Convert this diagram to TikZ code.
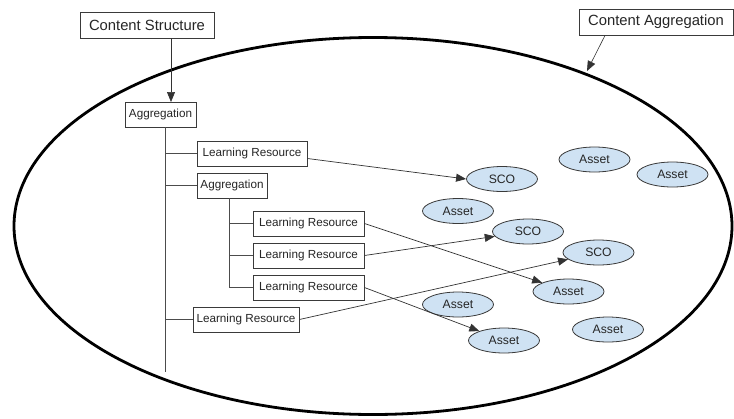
\documentclass[tikz,border=0pt]{standalone}
\usepackage{fontspec}
\setmainfont{Liberation Sans}
\usetikzlibrary{arrows.meta,shapes.geometric,calc}
\definecolor{itemblue}{HTML}{CFE2F3}
\definecolor{edge}{HTML}{3A3A3A}
\tikzset{
  box/.style={draw=edge, line width=0.9pt, fill=white, inner sep=0pt, minimum height=25pt,
              font=\fontsize{11.7}{13}\selectfont, text=black!85},
  bigbox/.style={box, minimum height=26pt, font=\fontsize{14.8}{17}\selectfont},
  item/.style={ellipse, draw=edge, line width=0.8pt, fill=itemblue, inner sep=0pt,
               minimum width=71pt, minimum height=25pt, font=\fontsize{12.2}{14}\selectfont, text=black!85},
  tree/.style={draw=black!70, line width=0.9pt},
  arr/.style={draw=black!80, line width=0.7pt, -{Triangle[length=10pt,width=8pt]}},
}
\begin{document}
\begin{tikzpicture}[x=1pt,y=-1pt]
\useasboundingbox (0,0) rectangle (734,418);
\fill[white] (0,0) rectangle (734,418);

% outer content aggregation boundary
\draw[line width=2.8pt] (373,226) ellipse [x radius=359, y radius=188.5];

% labels above
\node[bigbox, minimum width=134pt] (cs) at (147,25) {Content Structure};
\node[bigbox, minimum width=154pt] (ca) at (656,22) {Content Aggregation};

% content structure tree
\node[box, minimum width=71pt]  (agg1) at (160.5,114.5) {Aggregation};
\node[box, minimum width=110pt] (lr1)  at (252,153.5)   {Learning Resource};
\node[box, minimum width=70pt]  (agg2) at (232,185.5)   {Aggregation};
\node[box, minimum width=111pt] (lr2)  at (308.5,223.5) {Learning Resource};
\node[box, minimum width=111pt] (lr3)  at (308.5,255.5) {Learning Resource};
\node[box, minimum width=111pt] (lr4)  at (308.5,287.5) {Learning Resource};
\node[box, minimum width=106pt] (lr5)  at (246,319.5)   {Learning Resource};

% SCOs and assets
\node[item] (sco1) at (502,179) {SCO};
\node[item] (sco2) at (528,231.5) {SCO};
\node[item] (sco3) at (598.5,252.5) {SCO};
\node[item] (as1) at (594.5,159.5) {Asset};
\node[item] (as2) at (672.5,174.5) {Asset};
\node[item] (as3) at (458,211) {Asset};
\node[item] (as4) at (568.5,291.5) {Asset};
\node[item] (as5) at (458,304.5) {Asset};
\node[item] (as6) at (504,340.5) {Asset};
\node[item] (as7) at (608,329.5) {Asset};

% tree trunks and branches
\coordinate (tip)  at (171,102);
\coordinate (tr1)  at (165,127);
\coordinate (tr1e) at (165,372);
\coordinate (tr2)  at (229,198);
\draw[tree] (tr1) -- (tr1e);
\draw[tree] (tr1 |- lr1.west) -- (lr1.west);
\draw[tree] (tr1 |- agg2.west) -- (agg2.west);
\draw[tree] (tr1 |- lr5.west) -- (lr5.west);
\draw[tree] (tr2) |- (lr4.west);
\draw[tree] (tr2 |- lr2.west) -- (lr2.west);
\draw[tree] (tr2 |- lr3.west) -- (lr3.west);

% callout arrows
\draw[arr] (cs.south -| tip) -- (tip);
\coordinate (caend) at (587,71);
\draw[arr, line width=0.6pt] ([xshift=-51pt]ca.south) -- (caend);

% resource to SCO/asset links
\draw[arr] ([yshift=-5pt]lr1.east) -- (sco1.west);
\draw[arr] (lr2.east) -- (as4);
\draw[arr] (lr3.east) -- (sco2);
\draw[arr] (lr4.east) -- (as6);
\draw[arr] (lr5.east) -- (sco3);
\end{tikzpicture}
\end{document}
